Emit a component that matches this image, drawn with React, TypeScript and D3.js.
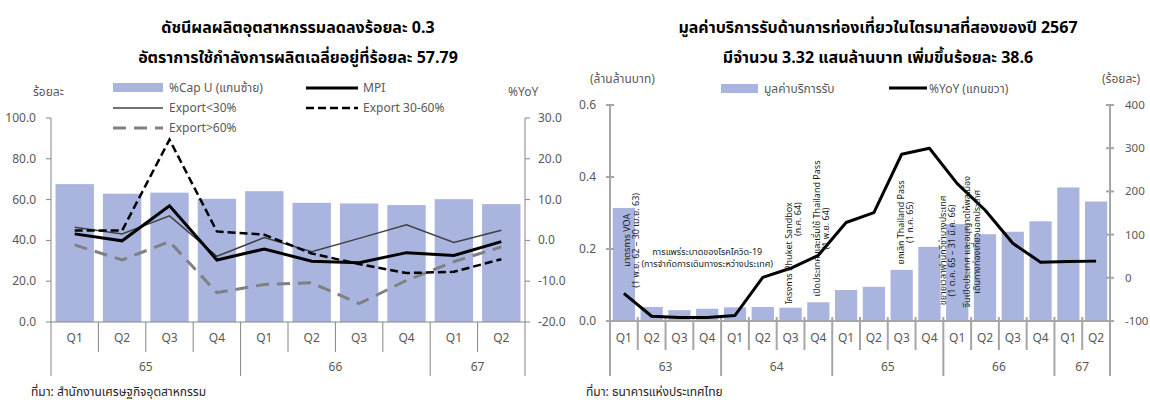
import React from "react";
import * as d3 from "d3";

// ---------------- Left chart data ----------------
const leftQuarters = ["Q1", "Q2", "Q3", "Q4", "Q1", "Q2", "Q3", "Q4", "Q1", "Q2"];
const leftYears = ["65", "66", "67"];
const leftYearSpans = [4, 4, 2];
const capU = [67.6, 62.9, 63.4, 60.4, 64.1, 58.4, 58.1, 57.3, 60.2, 57.79];
const mpi = [1.6, -0.1, 8.5, -4.8, -2.1, -5.1, -5.5, -3.0, -3.7, -0.3];
const exportLt30 = [3.2, 1.6, 6.0, -3.9, 0.7, -2.8, 0.5, 3.8, -0.5, 2.5];
const export30to60 = [2.4, 2.4, 24.7, 2.2, 1.4, -3.2, -5.8, -8.0, -7.7, -4.6];
const exportGt60 = [-1.1, -4.8, -0.3, -12.8, -10.8, -10.4, -15.5, -9.8, -5.2, -1.6];
const leftTicks = [0, 20, 40, 60, 80, 100];
const leftTicks2 = [-20, -10, 0, 10, 20, 30];

// ---------------- Right chart data ----------------
const rightQuarters = ["Q1", "Q2", "Q3", "Q4", "Q1", "Q2", "Q3", "Q4", "Q1", "Q2", "Q3", "Q4", "Q1", "Q2", "Q3", "Q4", "Q1", "Q2"];
const rightYears = ["63", "64", "65", "66", "67"];
const rightYearSpans = [4, 4, 4, 4, 2];
const tourismReceipts = [0.314, 0.039, 0.030, 0.034, 0.038, 0.039, 0.037, 0.052, 0.086, 0.095, 0.142, 0.206, 0.269, 0.241, 0.248, 0.277, 0.371, 0.332];
const tourismYoY = [-36, -89, -92, -92, -87, 1, 22, 52, 128, 151, 286, 300, 218, 157, 80, 36, 38, 38.6];
const rightTicks = [0, 0.2, 0.4, 0.6];
const rightTicks2 = [-100, 0, 100, 200, 300, 400];

// annotation texts
const annoVOA = ["มาตรการ VOA", "(1 พ.ย. 62 – 30 เม.ย. 63)"];
const annoCovid = ["การแพร่ระบาดของโรคโควิด-19", "(การจำกัดการเดินทางระหว่างประเทศ)"];
const annoPhuket = ["โครงการ Phuket Sandbox", "(ก.ค. 64)"];
const annoOpen = ["เปิดประเทศ และเริ่มใช้ Thailand Pass", "(1 พ.ย. 64)"];
const annoCancel = ["ยกเลิก Thailand Pass", "(1 ก.ค. 65)"];
const annoVisa = ["ขยายเวลาพำนักวีซ่าบางประเทศ", "(1 ต.ค. 65 – 31 มี.ค. 66)"];
const annoChina = ["จีนเปิดประเทศ และอนุญาตให้พลเมือง", "เดินทางท่องเที่ยวนอกประเทศ"];

const FONT = "Tahoma, 'Noto Sans Thai', 'Noto Sans', 'DejaVu Sans', sans-serif";
const BAR = "#a9b4df";
const TXT = "#595959";

function LeftChart() {
  const L = { left: 51, right: 525, top: 118, bottom: 322 };
  const x = d3.scaleBand<number>().domain(d3.range(capU.length)).range([L.left, L.right]).paddingInner(0.19).paddingOuter(0.095);
  const step = x.step();
  const cx = (i: number) => (x(i) as number) + x.bandwidth() / 2;
  const y = d3.scaleLinear().domain([0, 100]).range([L.bottom, L.top]);
  const y2 = d3.scaleLinear().domain([-20, 30]).range([L.bottom, L.top]);
  const line = (vals: number[]) => d3.line<number>().x((_, i) => cx(i)).y((v) => y2(v))(vals) as string;
  const axisC = "#868686";
  let acc = 0;
  const groupBounds = [0, ...leftYearSpans.map((s) => (acc += s))];
  return (
    <g fontFamily={FONT}>
      <text x={298} y={33} textAnchor="middle" fontSize={16} fontWeight="bold" fill="#000">ดัชนีผลผลิตอุตสาหกรรมลดลงร้อยละ 0.3</text>
      <text x={298} y={63} textAnchor="middle" fontSize={16} fontWeight="bold" fill="#000">อัตราการใช้กำลังการผลิตเฉลี่ยอยู่ที่ร้อยละ 57.79</text>
      <text x={33} y={96} fontSize={12} fill={TXT}>ร้อยละ</text>
      <text x={508} y={96} fontSize={12} fill={TXT}>%YoY</text>
      {/* legend */}
      <rect x={113} y={83} width={50} height={9} fill={BAR} />
      <text x={169} y={92} fontSize={12} fill={TXT}>%Cap U (แกนซ้าย)</text>
      <line x1={306} x2={358} y1={88} y2={88} stroke="#000" strokeWidth={3} />
      <text x={363} y={92} fontSize={12} fill={TXT}>MPI</text>
      <line x1={113} x2={163} y1={108} y2={108} stroke="#404040" strokeWidth={1.5} />
      <text x={169} y={112} fontSize={12} fill={TXT}>Export&lt;30%</text>
      <line x1={306} x2={358} y1={108} y2={108} stroke="#000" strokeWidth={2.5} strokeDasharray="8 4" />
      <text x={363} y={112} fontSize={12} fill={TXT}>Export 30-60%</text>
      <line x1={113} x2={163} y1={128} y2={128} stroke="#808080" strokeWidth={3} strokeDasharray="13 8" />
      <text x={169} y={132} fontSize={12} fill={TXT}>Export&gt;60%</text>
      {/* bars */}
      {capU.map((v, i) => (
        <rect key={i} x={x(i)} y={y(v)} width={x.bandwidth()} height={y(0) - y(v)} fill={BAR} />
      ))}
      {/* axes */}
      <line x1={L.left} x2={L.left} y1={L.top} y2={L.bottom} stroke={axisC} />
      <line x1={L.right} x2={L.right} y1={L.top} y2={L.bottom} stroke={axisC} />
      <line x1={L.left} x2={L.right} y1={L.bottom} y2={L.bottom} stroke={axisC} />
      {leftTicks.map((t) => (
        <g key={t}>
          <line x1={L.left - 5} x2={L.left} y1={y(t)} y2={y(t)} stroke={axisC} />
          <text x={36} y={y(t) + 4} textAnchor="end" fontSize={12} fill={TXT}>{t.toFixed(1)}</text>
        </g>
      ))}
      {leftTicks2.map((t) => (
        <g key={t}>
          <line x1={L.right} x2={L.right + 5} y1={y2(t)} y2={y2(t)} stroke={axisC} />
          <text x={538} y={y2(t) + 4} textAnchor="start" fontSize={12} fill={TXT}>{t.toFixed(1)}</text>
        </g>
      ))}
      {d3.range(capU.length + 1).map((i) => {
        const long = groupBounds.includes(i);
        const xx = L.left + step * i;
        return <line key={i} x1={xx} x2={xx} y1={L.bottom} y2={long ? 376 : 352} stroke={axisC} />;
      })}
      {leftQuarters.map((q, i) => (
        <text key={i} x={cx(i)} y={342} textAnchor="middle" fontSize={12} fill={TXT}>{q}</text>
      ))}
      {leftYears.map((yr, k) => {
        const mid = L.left + step * (groupBounds[k] + groupBounds[k + 1]) / 2;
        return <text key={yr} x={mid} y={371} textAnchor="middle" fontSize={12} fill={TXT}>{yr}</text>;
      })}
      {/* lines */}
      <path d={line(exportGt60)} fill="none" stroke="#808080" strokeWidth={3} strokeDasharray="13 8" />
      <path d={line(exportLt30)} fill="none" stroke="#404040" strokeWidth={1.5} />
      <path d={line(export30to60)} fill="none" stroke="#000" strokeWidth={2.5} strokeDasharray="8 4" />
      <path d={line(mpi)} fill="none" stroke="#000" strokeWidth={3} />
      <text x={31} y={396} fontSize={12} fill="#262626">ที่มา: สำนักงานเศรษฐกิจอุตสาหกรรม</text>
    </g>
  );
}

function RotText({ x, y, lines, anchor = "middle", gap = 9 }: { x: number; y: number; lines: string[]; anchor?: string; gap?: number }) {
  return (
    <g transform={`translate(${x},${y}) rotate(-90)`}>
      {lines.map((l, i) => (
        <text key={i} x={0} y={(i - (lines.length - 1) / 2) * gap + 3} textAnchor={anchor} fontSize={9} fill="#1a1a1a">{l}</text>
      ))}
    </g>
  );
}

function RightChart() {
  const R = { left: 610, right: 1110, top: 105, bottom: 321 };
  const x = d3.scaleBand<number>().domain(d3.range(tourismReceipts.length)).range([R.left, R.right]).paddingInner(0.2).paddingOuter(0.1);
  const step = x.step();
  const cx = (i: number) => (x(i) as number) + x.bandwidth() / 2;
  const y = d3.scaleLinear().domain([0, 0.6]).range([R.bottom, R.top]);
  const y2 = d3.scaleLinear().domain([-100, 400]).range([R.bottom, R.top]);
  const path = d3.line<number>().x((_, i) => cx(i)).y((v) => y2(v))(tourismYoY) as string;
  const axisC = "#a6a6a6";
  let acc = 0;
  const groupBounds = [0, ...rightYearSpans.map((s) => (acc += s))];
  return (
    <g fontFamily={FONT}>
      <text x={878} y={33} textAnchor="middle" fontSize={16} fontWeight="bold" fill="#000">มูลค่าบริการรับด้านการท่องเที่ยวในไตรมาสที่สองของปี 2567</text>
      <text x={878} y={63} textAnchor="middle" fontSize={16} fontWeight="bold" fill="#000">มีจำนวน 3.32 แสนล้านบาท เพิ่มขึ้นร้อยละ 38.6</text>
      <text x={590} y={83} fontSize={12} fill={TXT}>(ล้านล้านบาท)</text>
      <text x={1140} y={83} textAnchor="end" fontSize={12} fill={TXT}>(ร้อยละ)</text>
      <rect x={721} y={84} width={37} height={9} fill={BAR} />
      <text x={764} y={93} fontSize={12} fill={TXT}>มูลค่าบริการรับ</text>
      <line x1={889} x2={927} y1={88} y2={88} stroke="#000" strokeWidth={3} />
      <text x={929} y={93} fontSize={12} fill={TXT}>%YoY (แกนขวา)</text>
      {tourismReceipts.map((v, i) => (
        <rect key={i} x={x(i)} y={y(v)} width={x.bandwidth()} height={y(0) - y(v)} fill={BAR} />
      ))}
      <line x1={R.left} x2={R.left} y1={R.top} y2={R.bottom} stroke={axisC} strokeWidth={2} />
      <line x1={R.right} x2={R.right} y1={R.top} y2={R.bottom} stroke={axisC} strokeWidth={2} />
      <line x1={R.left} x2={R.right} y1={R.bottom} y2={R.bottom} stroke={axisC} strokeWidth={2} />
      {rightTicks.map((t) => (
        <g key={t}>
          <line x1={R.left - 4} x2={R.left + 4} y1={y(t)} y2={y(t)} stroke={axisC} strokeWidth={2} />
          <text x={596} y={y(t) + 4} textAnchor="end" fontSize={12} fill={TXT}>{t.toFixed(1)}</text>
        </g>
      ))}
      {rightTicks2.map((t) => (
        <g key={t}>
          <line x1={R.right - 4} x2={R.right + 4} y1={y2(t)} y2={y2(t)} stroke={axisC} strokeWidth={2} />
          <text x={1125} y={y2(t) + 4} textAnchor="start" fontSize={11.5} fill={TXT}>{t}</text>
        </g>
      ))}
      {d3.range(tourismReceipts.length + 1).map((i) => {
        const long = groupBounds.includes(i);
        const xx = R.left + step * i;
        return <line key={i} x1={xx} x2={xx} y1={R.bottom - 4} y2={long ? 376 : 350} stroke={axisC} strokeWidth={2} />;
      })}
      {rightQuarters.map((q, i) => (
        <text key={i} x={cx(i)} y={342} textAnchor="middle" fontSize={12} fill={TXT}>{q}</text>
      ))}
      {rightYears.map((yr, k) => {
        const mid = R.left + step * (groupBounds[k] + groupBounds[k + 1]) / 2;
        return <text key={yr} x={mid} y={371} textAnchor="middle" fontSize={12} fill={TXT}>{yr}</text>;
      })}
      <path d={path} fill="none" stroke="#000" strokeWidth={3} strokeLinejoin="round" />
      {/* annotations */}
      <RotText x={cx(0) + 8} y={y(0.224)} lines={annoVOA} />
      <g>
        {annoCovid.map((l, i) => (
          <text key={i} x={cx(3)} y={y(0.176) + (i - 0.5) * 12 + 3} textAnchor="middle" fontSize={9} fill="#1a1a1a">{l}</text>
        ))}
      </g>
      <RotText x={cx(6) + 3} y={y(0.33)} lines={annoPhuket} anchor="end" />
      <RotText x={cx(7) + 3} y={y(0.257)} lines={annoOpen} />
      <RotText x={cx(10) + 4} y={y(0.274)} lines={annoCancel} />
      <RotText x={cx(12) - 10} y={y(0.196)} lines={annoVisa} />
      <RotText x={cx(13) - 13} y={y(0.22)} lines={annoChina} gap={10} />
      <text x={586} y={396} fontSize={12} fill="#262626">ที่มา: ธนาคารแห่งประเทศไทย</text>
    </g>
  );
}

export default function App() {
  return (
    <svg width={1150} height={400} style={{ position: "absolute", left: 0, top: 0, background: "#fff" }}>
      <rect width={1150} height={400} fill="#fff" />
      <LeftChart />
      <RightChart />
    </svg>
  );
}
